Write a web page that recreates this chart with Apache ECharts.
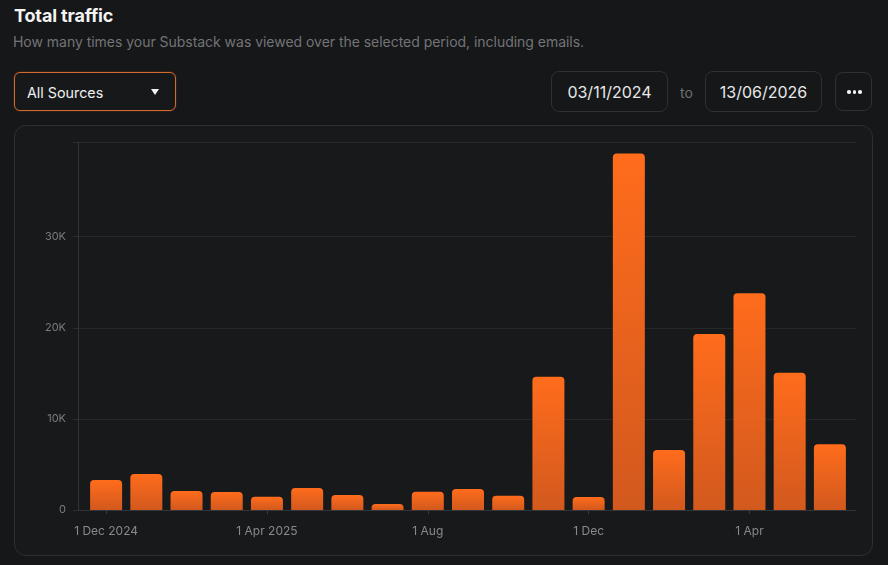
<!DOCTYPE html>
<html>
<head>
<meta charset="utf-8">
<script src="https://cdn.jsdelivr.net/npm/echarts@6/dist/echarts.min.js"></script>
<style>
  html, body { margin:0; padding:0; width:888px; height:565px; background:#161719; overflow:hidden; font-family: Inter, "Noto Sans", sans-serif; }
  .abs { position:absolute; }
  #title { left:14px; top:5px; font-size:18px; font-weight:700; color:#f3f3f3; letter-spacing:-0.15px; }
  #sub { left:13px; top:33px; font-size:14px; color:#737476; letter-spacing:-0.03px; }
  #drop { left:14px; top:72px; width:162px; height:39px; box-sizing:border-box; border:1.5px solid #d2692f; border-radius:6px; background:#17181a; box-shadow:0 0 2px rgba(230,110,40,0.35); }
  #drop span { position:absolute; left:12px; top:1px; line-height:37px; font-size:14.3px; color:#f0f0f0; }
  #caret { position:absolute; left:136px; top:16px; width:0; height:0; border-left:4.5px solid transparent; border-right:4.5px solid transparent; border-top:6.5px solid #f2f2f2; }
  .date { top:71px; width:117px; height:41px; box-sizing:border-box; border:1px solid #2f3033; border-radius:8px; text-align:center; line-height:41px; font-size:16px; color:#e8e8e8; }
  #to { left:680px; top:84px; font-size:14px; color:#6f7072; }
  #more { left:835px; top:72px; width:37px; height:39px; box-sizing:border-box; border:1px solid #2f3033; border-radius:8px; }
  .dot { position:absolute; top:17px; width:3.6px; height:3.6px; border-radius:50%; background:#f2f2f2; }
  #card { left:14px; top:125px; width:859px; height:431px; box-sizing:border-box; border:1px solid #2e2f32; border-radius:12px; background:#18191b; }
  #chart { left:0; top:0; width:888px; height:565px; }
</style>
</head>
<body>
<div id="title" class="abs">Total traffic</div>
<div id="sub" class="abs">How many times your Substack was viewed over the selected period, including emails.</div>
<div id="drop" class="abs"><span>All Sources</span><div id="caret"></div></div>
<div class="abs date" style="left:551px;">03/11/2024</div>
<div id="to" class="abs">to</div>
<div class="abs date" style="left:705px;">13/06/2026</div>
<div id="more" class="abs"><div class="dot" style="left:11px"></div><div class="dot" style="left:16.7px"></div><div class="dot" style="left:22.4px"></div></div>
<div id="card" class="abs"></div>
<div id="chart" class="abs"></div>
<script>
// ---- data ----
const categories = ['Dec 2024','Jan 2025','Feb 2025','Mar 2025','Apr 2025','May 2025','Jun 2025','Jul 2025','Aug 2025','Sep 2025','Oct 2025','Nov 2025','Dec 2025','Jan 2026','Feb 2026','Mar 2026','Apr 2026','May 2026','Jun 2026'];
const views = [3290, 3950, 2090, 1980, 1460, 2410, 1650, 660, 2010, 2310, 1570, 14630, 1430, 39150, 6590, 19320, 23790, 15070, 7210];
const xTickLabels = { 'Dec 2024':'1 Dec 2024', 'Apr 2025':'1 Apr 2025', 'Aug 2025':'1 Aug', 'Dec 2025':'1 Dec', 'Apr 2026':'1 Apr' };
const yTickValues = [0, 10000, 20000, 30000];
const yMax = 40400;

// ---- chart ----
const chart = echarts.init(document.getElementById('chart'), null, { renderer: 'canvas' });
const fontFamily = 'Inter, "Noto Sans", sans-serif';
chart.setOption({
  backgroundColor: 'transparent',
  animation: false,
  grid: [
    { left: 78, right: 32, top: 142, bottom: 55 },
    { left: 86, right: 38, top: 142, bottom: 55 }
  ],
  xAxis: [
    { gridIndex: 0, type: 'value', min: 0, max: 1,
      axisLine: { show: true, lineStyle: { color: '#343538', width: 1 } },
      axisTick: { show: false }, axisLabel: { show: false }, splitLine: { show: false } },
    { gridIndex: 1, type: 'category', data: categories,
      axisLine: { show: false },
      axisTick: { show: true, alignWithLabel: true, interval: 3, length: 4, lineStyle: { color: '#3a3b3e' } },
      axisLabel: { interval: 3, formatter: v => xTickLabels[v] || '', color: '#88898b', fontSize: 12, margin: 15, fontFamily } }
  ],
  yAxis: [
    { gridIndex: 0, type: 'value', min: 0, max: yMax,
      axisLine: { show: true, lineStyle: { color: '#333437' } },
      axisTick: { show: true, length: 5, customValues: yTickValues.concat([yMax]), lineStyle: { color: '#2c2d30' } },
      axisLabel: { customValues: yTickValues, formatter: v => v === 0 ? '0' : (v / 1000) + 'K', color: '#7a7b7d', fontSize: 11, margin: 12, fontFamily },
      splitLine: { show: true, lineStyle: { color: '#262729' } } },
    { gridIndex: 1, type: 'value', min: 0, max: yMax, show: false, splitLine: { show: false } }
  ],
  series: [{
    type: 'bar', xAxisIndex: 1, yAxisIndex: 1, data: views, barWidth: 32, silent: true,
    itemStyle: {
      borderRadius: [4, 4, 0, 0],
      color: new echarts.graphic.LinearGradient(0, 0, 0, 1, [
        { offset: 0, color: '#ff6c1c' },
        { offset: 1, color: '#d2591e' }
      ])
    }
  }]
});
</script>
</body>
</html>
